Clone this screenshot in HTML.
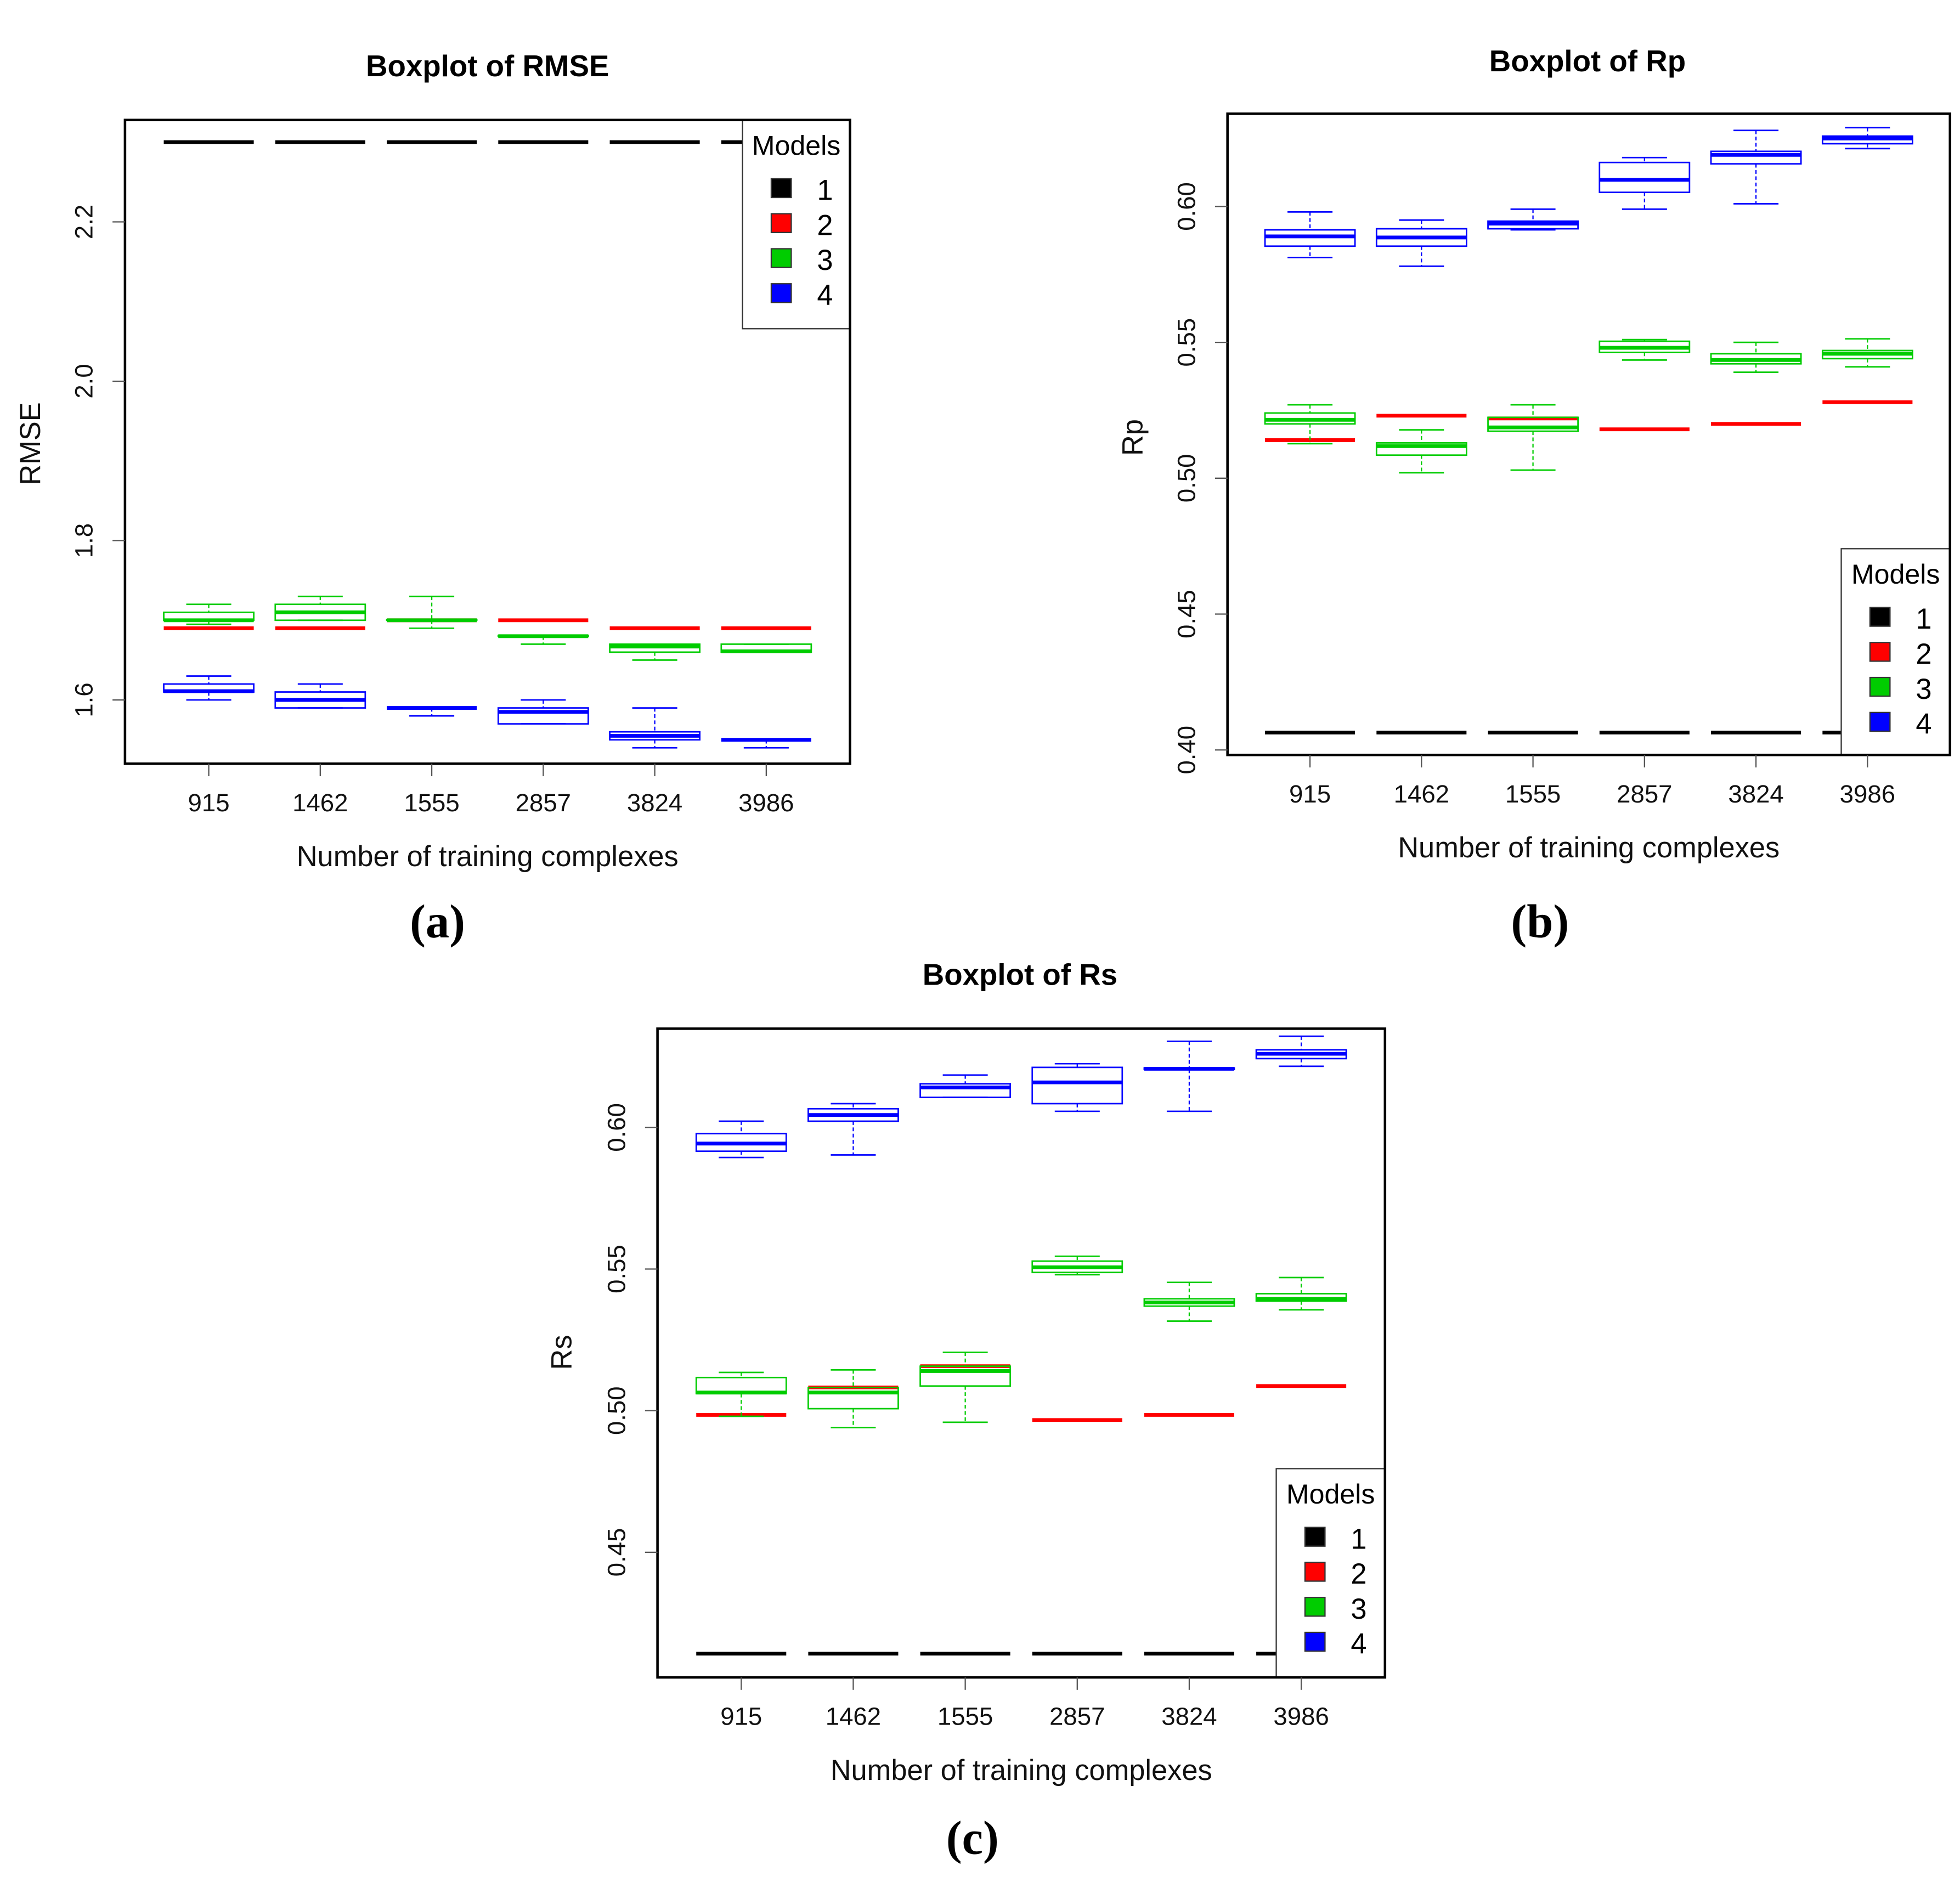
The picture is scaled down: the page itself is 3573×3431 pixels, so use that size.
<!DOCTYPE html>
<html><head><meta charset="utf-8"><style>
html,body{margin:0;padding:0;background:#fff;}
svg{display:block;}
text{font-family:"Liberation Sans",sans-serif;}
</style></head><body>
<svg id="fig" xmlns="http://www.w3.org/2000/svg" width="3573" height="3431" viewBox="0 0 1568 1505.7"></svg>
<script>
const categories = ["915","1462","1555","2857","3824","3986"];
// Panel A (RMSE)
const A_m1_lo=[2.3,2.3,2.3,2.3,2.3,2.3], A_m1_q1=[2.3,2.3,2.3,2.3,2.3,2.3], A_m1_med=[2.3,2.3,2.3,2.3,2.3,2.3], A_m1_q3=[2.3,2.3,2.3,2.3,2.3,2.3], A_m1_hi=[2.3,2.3,2.3,2.3,2.3,2.3];
const A_m2_lo=[1.69,1.69,1.70,1.70,1.69,1.69], A_m2_q1=[1.69,1.69,1.70,1.70,1.69,1.69], A_m2_med=[1.69,1.69,1.70,1.70,1.69,1.69], A_m2_q3=[1.69,1.69,1.70,1.70,1.69,1.69], A_m2_hi=[1.69,1.69,1.70,1.70,1.69,1.69];
const A_m3_lo=[1.695,1.70,1.69,1.67,1.65,1.66], A_m3_q1=[1.70,1.70,1.70,1.68,1.66,1.66], A_m3_med=[1.70,1.71,1.70,1.68,1.667,1.661], A_m3_q3=[1.71,1.72,1.701,1.681,1.67,1.67], A_m3_hi=[1.72,1.73,1.73,1.681,1.67,1.67];
const A_m4_lo=[1.60,1.59,1.58,1.57,1.54,1.54], A_m4_q1=[1.61,1.59,1.59,1.57,1.55,1.55], A_m4_med=[1.611,1.60,1.59,1.585,1.555,1.55], A_m4_q3=[1.62,1.61,1.59,1.59,1.56,1.55], A_m4_hi=[1.63,1.62,1.59,1.60,1.59,1.55];
const A_ticks=[1.6,1.8,2.0,2.2], A_tickLabels=["1.6","1.8","2.0","2.2"];
// Panel B (Rp)
const B_m1_lo=[0.4064,0.4064,0.4064,0.4064,0.4064,0.4064], B_m1_q1=B_m1_lo, B_m1_med=B_m1_lo, B_m1_q3=B_m1_lo, B_m1_hi=B_m1_lo;
const B_m2_lo=[0.514,0.523,0.522,0.518,0.520,0.528], B_m2_q1=B_m2_lo, B_m2_med=B_m2_lo, B_m2_q3=B_m2_lo, B_m2_hi=B_m2_lo;
const B_m3_lo=[0.5127,0.502,0.503,0.5435,0.539,0.541], B_m3_q1=[0.520,0.5085,0.5173,0.5463,0.5421,0.544], B_m3_med=[0.5215,0.5118,0.5187,0.548,0.5435,0.5458], B_m3_q3=[0.524,0.513,0.5224,0.5504,0.5458,0.547], B_m3_hi=[0.527,0.5178,0.527,0.551,0.550,0.5513];
const B_m4_lo=[0.5812,0.578,0.5914,0.599,0.601,0.6213], B_m4_q1=[0.5854,0.5854,0.5918,0.6052,0.6157,0.6231], B_m4_med=[0.589,0.5886,0.5937,0.6098,0.619,0.625], B_m4_q3=[0.5914,0.5918,0.5946,0.6162,0.6203,0.6259], B_m4_hi=[0.598,0.595,0.599,0.618,0.628,0.629];
const B_ticks=[0.40,0.45,0.50,0.55,0.60], B_tickLabels=["0.40","0.45","0.50","0.55","0.60"];
// Panel C (Rs)
const C_m1_lo=[0.4142,0.4142,0.4142,0.4142,0.4142,0.4142], C_m1_q1=C_m1_lo, C_m1_med=C_m1_lo, C_m1_q3=C_m1_lo, C_m1_hi=C_m1_lo;
const C_m2_lo=[0.4985,0.5082,0.5157,0.4967,0.4985,0.5087], C_m2_q1=C_m2_lo, C_m2_med=C_m2_lo, C_m2_q3=C_m2_lo, C_m2_hi=C_m2_lo;
const C_m3_lo=[0.498,0.494,0.4959,0.548,0.5316,0.5356], C_m3_q1=[0.506,0.5007,0.5087,0.5488,0.5369,0.5387], C_m3_med=[0.5064,0.5064,0.514,0.5506,0.5382,0.5395], C_m3_q3=[0.5117,0.5082,0.5157,0.5528,0.5395,0.5413], C_m3_hi=[0.5135,0.5144,0.5206,0.5545,0.5453,0.547];
const C_m4_lo=[0.5894,0.5903,0.6106,0.6057,0.6057,0.6216], C_m4_q1=[0.5916,0.6022,0.6106,0.6084,0.6205,0.6243], C_m4_med=[0.5943,0.6044,0.6141,0.6159,0.6207,0.626], C_m4_q3=[0.5978,0.6066,0.6154,0.6212,0.621,0.6274], C_m4_hi=[0.6022,0.6084,0.6185,0.6225,0.6304,0.6322];
const C_ticks=[0.45,0.50,0.55,0.60], C_tickLabels=["0.45","0.50","0.55","0.60"];
const modelNames=["1","2","3","4"];

const NS="http://www.w3.org/2000/svg";
const svg=document.getElementById("fig");
function mk(tag,attrs,parent){const e=document.createElementNS(NS,tag);for(const k in attrs)e.setAttribute(k,attrs[k]);(parent||svg).appendChild(e);return e;}
const colors=["#000000","#ff0000","#00cc00","#0000ff"];

function panel(P){
  const g=mk("g",{});
  
  
  const ys=v=>P.yRef-(v-P.vRef)*P.k;
  const xs=i=>P.cx0+P.dx*i;
  const models=[P.m1,P.m2,P.m3,P.m4];
  models.forEach((m,mi)=>{
    const mg=mk("g",{},g);
    
    
    categories.forEach((c,i)=>{
      const x=xs(i),hw=36,cw=18,col=colors[mi];
      const lo=ys(m[0][i]),q1=ys(m[1][i]),md=ys(m[2][i]),q3=ys(m[3][i]),hi=ys(m[4][i]);
      const bg=mk("g",{},mg);
      
      
      mk("line",{x1:x,x2:x,y1:hi,y2:q3,stroke:col,"stroke-width":1,"stroke-dasharray":"3,2"},bg);
      mk("line",{x1:x,x2:x,y1:q1,y2:lo,stroke:col,"stroke-width":1,"stroke-dasharray":"3,2"},bg);
      mk("line",{x1:x-cw,x2:x+cw,y1:hi,y2:hi,stroke:col,"stroke-width":1.2},bg);
      mk("line",{x1:x-cw,x2:x+cw,y1:lo,y2:lo,stroke:col,"stroke-width":1.2},bg);
      mk("rect",{x:x-hw,y:Math.min(q1,q3),width:2*hw,height:Math.abs(q1-q3),fill:"none",stroke:col,"stroke-width":1.2},bg);
      mk("line",{x1:x-hw,x2:x+hw,y1:md,y2:md,stroke:col,"stroke-width":3},bg);
    });
  });
  const L=P.leg;
  const lg=mk("g",{},g);
  
  
  mk("rect",{x:L.x,y:L.y,width:L.w,height:L.h,fill:"#fff",stroke:"#333","stroke-width":1},lg);
  const lt=mk("text",{x:L.x+L.w/2,y:L.y+28,"font-size":22,"text-anchor":"middle"},lg);lt.textContent="Models";
  
  
  modelNames.forEach((n,i)=>{
    const ry=L.y+55+i*28;
    const e=mk("g",{},lg);
    
    
    mk("rect",{x:L.x+23,y:ry-8,width:16,height:15,fill:colors[i],stroke:"#333","stroke-width":1},e);
    const t=mk("text",{x:L.x+66,y:ry+9,"font-size":23,"text-anchor":"middle"},e);t.textContent=n;
  });
  const fr=mk("rect",{x:P.x0,y:P.y0,width:P.x1-P.x0,height:P.y1-P.y0,fill:"none",stroke:"#000","stroke-width":2},g);
  
  
  categories.forEach((c,i)=>{
    const x=xs(i);
    mk("line",{x1:x,x2:x,y1:P.y1,y2:P.y1+10,stroke:"#555","stroke-width":1},g);
    const t=mk("text",{x:x,y:P.y1+38,"font-size":20,"text-anchor":"middle",fill:"#111"},g);t.textContent=c;
    
    
  });
  P.ticks.forEach((v,i)=>{
    const y=ys(v);
    mk("line",{x1:P.x0-10,x2:P.x0,y1:y,y2:y,stroke:"#555","stroke-width":1},g);
    const t=mk("text",{x:0,y:0,"font-size":20,"text-anchor":"middle",fill:"#111",transform:`translate(${P.x0-26},${y}) rotate(-90)`},g);t.textContent=P.tickLabels[i];
    
    
  });
  const ti=mk("text",{x:P.title[0],y:P.title[1],"font-size":24,"font-weight":"bold","text-anchor":"middle"},g);ti.textContent=P.titleText;
  
  
  const xl=mk("text",{x:(P.x0+P.x1)/2,y:P.y1+82,"font-size":23,"text-anchor":"middle",fill:"#111"},g);xl.textContent="Number of training complexes";
  
  
  const yl=mk("text",{x:0,y:0,"font-size":23,"text-anchor":"middle",fill:"#111",transform:`translate(${P.ylab[0]},${P.ylab[1]}) rotate(-90)`},g);yl.textContent=P.yText;
  
  
  const pl=mk("text",{x:P.plab[0],y:P.plab[1],"font-size":38,"font-weight":"bold","text-anchor":"middle",style:"font-family:'Liberation Serif',serif"},g);pl.textContent=P.plabText;
  
  
}

panel({id:"rmse",x0:100,x1:680,y0:96,y1:611,yRef:560,vRef:1.6,k:637.5,cx0:167,dx:89.2,
  m1:[A_m1_lo,A_m1_q1,A_m1_med,A_m1_q3,A_m1_hi],m2:[A_m2_lo,A_m2_q1,A_m2_med,A_m2_q3,A_m2_hi],
  m3:[A_m3_lo,A_m3_q1,A_m3_med,A_m3_q3,A_m3_hi],m4:[A_m4_lo,A_m4_q1,A_m4_med,A_m4_q3,A_m4_hi],
  ticks:A_ticks,tickLabels:A_tickLabels,title:[390,61],titleText:"Boxplot of RMSE",ylab:[32,355],yText:"RMSE",
  plab:[350,750],plabText:"(a)",leg:{x:594,y:96,w:86,h:167}});
panel({id:"rp",x0:982,x1:1560,y0:91,y1:604,yRef:600,vRef:0.4,k:2174,cx0:1048,dx:89.2,
  m1:[B_m1_lo,B_m1_q1,B_m1_med,B_m1_q3,B_m1_hi],m2:[B_m2_lo,B_m2_q1,B_m2_med,B_m2_q3,B_m2_hi],
  m3:[B_m3_lo,B_m3_q1,B_m3_med,B_m3_q3,B_m3_hi],m4:[B_m4_lo,B_m4_q1,B_m4_med,B_m4_q3,B_m4_hi],
  ticks:B_ticks,tickLabels:B_tickLabels,title:[1270,57],titleText:"Boxplot of Rp",ylab:[914,350],yText:"Rp",
  plab:[1232,750],plabText:"(b)",leg:{x:1473,y:439,w:87,h:165}});
panel({id:"rs",x0:526,x1:1108,y0:823,y1:1342,yRef:902,vRef:0.6,k:2266,cx0:593,dx:89.6,
  m1:[C_m1_lo,C_m1_q1,C_m1_med,C_m1_q3,C_m1_hi],m2:[C_m2_lo,C_m2_q1,C_m2_med,C_m2_q3,C_m2_hi],
  m3:[C_m3_lo,C_m3_q1,C_m3_med,C_m3_q3,C_m3_hi],m4:[C_m4_lo,C_m4_q1,C_m4_med,C_m4_q3,C_m4_hi],
  ticks:C_ticks,tickLabels:C_tickLabels,title:[816,788],titleText:"Boxplot of Rs",ylab:[457,1082],yText:"Rs",
  plab:[778,1483],plabText:"(c)",leg:{x:1021,y:1175,w:87,h:167}});
</script>
</body></html>
